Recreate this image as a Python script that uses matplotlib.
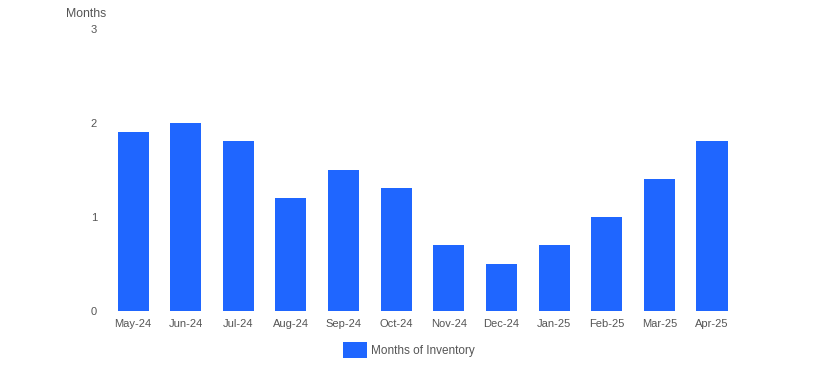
import matplotlib
matplotlib.use('Agg')
import matplotlib.pyplot as plt
import numpy as np

# Months of inventory, May-24 .. Apr-25
months = ['May-24', 'Jun-24', 'Jul-24', 'Aug-24', 'Sep-24', 'Oct-24',
          'Nov-24', 'Dec-24', 'Jan-25', 'Feb-25', 'Mar-25', 'Apr-25']
inventory = [1.9, 2.0, 1.8, 1.2, 1.5, 1.3, 0.7, 0.5, 0.7, 1.0, 1.4, 1.8]
yticks = [0, 1, 2, 3]

plt.rcParams['font.family'] = ['Liberation Sans', 'DejaVu Sans']
txt = '#555555'
blue = '#1f66ff'

fig = plt.figure(figsize=(8.14, 3.69), dpi=100)
ax = fig.add_axes([0.1311, 0.1585, 0.7759, 0.764])

x = np.arange(len(months))
ax.bar(x, inventory, width=0.59, color=blue, label='Months of Inventory')

ax.set_xlim(-0.5, len(months) - 0.5)
ax.set_ylim(0, 3)
ax.set_yticks(yticks)
ax.set_xticks(x)
ax.set_xticklabels(months)
ax.tick_params(axis='both', length=0, labelsize=8, colors=txt)
ax.tick_params(axis='y', pad=7)
ax.tick_params(axis='x', pad=6)
for s in ax.spines.values():
    s.set_visible(False)

fig.text(66 / 814, 1 - 14 / 369, 'Months', fontsize=8.8, color=txt, va='center', ha='left')

fig.legend(loc='center', bbox_to_anchor=(409 / 814, 1 - 350 / 369), frameon=False,
           fontsize=8.5, labelcolor=txt, handlelength=2.0, handleheight=1.7,
           handletextpad=0.4)

fig.savefig('out.png', dpi=100)
